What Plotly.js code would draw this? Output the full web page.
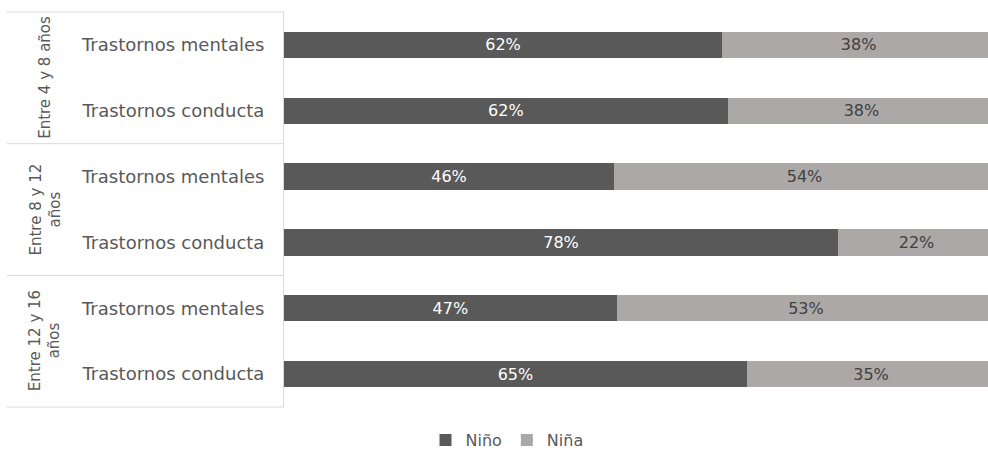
<!DOCTYPE html>
<html>
<head>
<meta charset="utf-8">
<script src="https://cdn.plot.ly/plotly-3.0.1.min.js"></script>
<style>html,body{margin:0;padding:0;background:#fff;}#chart{width:988px;height:451px;}</style>
</head>
<body>
<div id="chart"></div>
<script>
// Row identifiers (top to bottom) and their tick labels
const rowIds = ['a_m', 'a_c', 'b_m', 'b_c', 'c_m', 'c_c'];
const rowLabels = ['Trastornos mentales', 'Trastornos conducta', 'Trastornos mentales', 'Trastornos conducta', 'Trastornos mentales', 'Trastornos conducta'];
// Age groups (two rows each)
const groupLabels = ['Entre 4 y 8 años', 'Entre 8 y 12<br>años', 'Entre 12 y 16<br>años'];
// Series values (percent, as measured from bar lengths) and printed labels
const seriesNames = ['Niño', 'Niña'];
const ninoValues = [61.6, 62.4, 46.4, 77.9, 46.8, 65.1];
const ninaValues = [38.4, 37.6, 53.6, 22.1, 53.2, 34.9];
const ninoText = ['62%', '62%', '46%', '78%', '47%', '65%'];
const ninaText = ['38%', '38%', '54%', '22%', '53%', '35%'];

const FONT = 'DejaVu Sans, Liberation Sans, Arial, sans-serif';

const traces = [
  {
    type: 'bar', orientation: 'h', name: seriesNames[0],
    y: rowIds, x: ninoValues, text: ninoText, texttemplate: '%{text}',
    textposition: 'inside', insidetextanchor: 'middle',
    textfont: {family: FONT, size: 16, color: '#ffffff'},
    marker: {color: '#595959', line: {width: 0}},
    hoverinfo: 'skip'
  },
  {
    type: 'bar', orientation: 'h', name: seriesNames[1],
    y: rowIds, x: ninaValues, text: ninaText, texttemplate: '%{text}',
    textposition: 'inside', insidetextanchor: 'middle',
    textfont: {family: FONT, size: 16, color: '#404040'},
    marker: {color: '#aca8a7', line: {width: 0}},
    hoverinfo: 'skip'
  }
];

const L = 284, W = 988 - 284, T = 12, H = 407 - 12;
const leftPaper = (7 - L) / W;
const lineColor = '#d9d9d9';
const shapes = [1, 2/3, 1/3, 0].map(y => ({
  type: 'line', xref: 'paper', yref: 'paper', x0: leftPaper, x1: 0, y0: y, y1: y,
  line: {color: lineColor, width: 1}
}));

const annotations = groupLabels.map((t, i) => ({
  xref: 'paper', yref: 'paper', x: (45 - L) / W, y: 1 - (i + 0.5) / 3,
  text: t, textangle: -90, showarrow: false, xanchor: 'center', yanchor: 'middle',
  font: {family: FONT, size: 15, color: '#595959'}, align: 'center'
}));

const layout = {
  width: 988, height: 451,
  margin: {l: L, r: 0, t: T, b: 451 - 407, pad: 0, autoexpand: false},
  paper_bgcolor: '#ffffff', plot_bgcolor: '#ffffff',
  barmode: 'stack', bargap: 0.6,
  font: {family: FONT, color: '#595959'},
  xaxis: {range: [0, 99], showgrid: false, zeroline: false, showticklabels: false, showline: false, ticks: '', fixedrange: true, automargin: false},
  yaxis: {
    type: 'category', categoryorder: 'array', categoryarray: rowIds,
    tickvals: rowIds, ticktext: rowLabels, autorange: 'reversed',
    showline: true, linecolor: lineColor, linewidth: 1, mirror: false,
    showgrid: false, zeroline: false, ticks: '', ticklabelstandoff: 15,
    tickfont: {family: FONT, size: 18, color: '#595959'}, fixedrange: true, automargin: false
  },
  showlegend: true,
  legend: {
    orientation: 'h', x: (507 - L) / W, xanchor: 'center', y: -(440 - 407) / H, yanchor: 'middle',
    font: {family: FONT, size: 16, color: '#595959'}, traceorder: 'normal',
    itemwidth: 30, bgcolor: 'rgba(0,0,0,0)'
  },
  shapes: shapes,
  annotations: annotations
};

Plotly.newPlot('chart', traces, layout, {staticPlot: true, displayModeBar: false});
</script>
</body>
</html>
